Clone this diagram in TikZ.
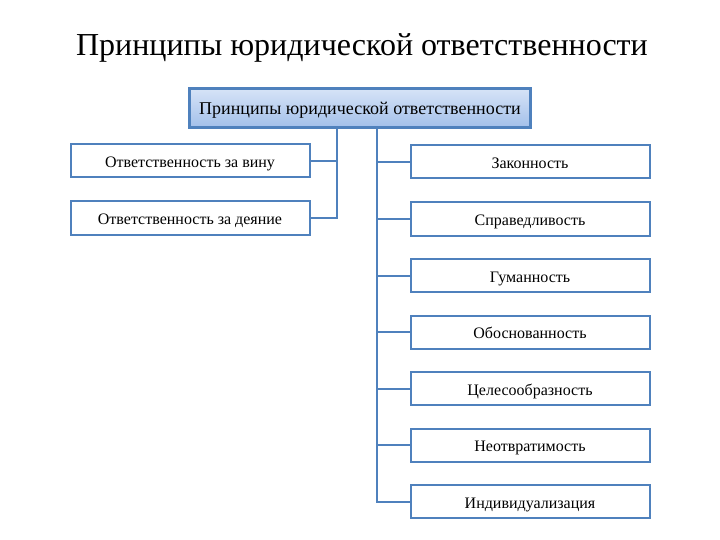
\documentclass[tikz,border=0pt]{standalone}
\usepackage{fontspec}
\setmainfont{Liberation Serif}
\usetikzlibrary{shadows,positioning}
\definecolor{prblue}{RGB}{79,129,189}
\definecolor{prlight}{RGB}{214,227,247}
\definecolor{prmid}{RGB}{163,192,234}
\tikzstyle{topbox} = [draw=prblue, line width=2.2pt, top color=prlight, bottom color=prmid, minimum width=341pt, minimum height=39pt, text height=15pt, text depth=2.5pt, font=\fontsize{18}{20}\selectfont, drop shadow={shadow xshift=-0.5pt, shadow yshift=-2pt, opacity=0.25}]
\tikzstyle{leaf} = [draw=prblue, line width=2pt, fill=white, minimum width=239pt, minimum height=33pt, text height=14pt, text depth=1pt, font=\fontsize{16}{18}\selectfont]
\tikzstyle{link} = [line width=2pt, color=prblue]

\begin{document}
\begin{tikzpicture}[x=1pt, y=-1pt]
\useasboundingbox (0,0) rectangle (720,540);

% Title
\node[font=\fontsize{32}{36}\selectfont] (title) at (362,48) {Принципы юридической ответственности};

% Root
\node[topbox] (root) at (360,108) {Принципы юридической ответственности};

% Left branch
\node[leaf] (guilt) at (190,161) {Ответственность за вину};
\node[leaf] (deed) at (190,218) {Ответственность за деяние};

% Right branch
\node[leaf] (legal) at (530,162) {Законность};
\node[leaf] (just) at (530,219) {Справедливость};
\node[leaf] (human) at (530,275.5) {Гуманность};
\node[leaf] (ground) at (530,332) {Обоснованность};
\node[leaf] (expedient) at (530,388.5) {Целесообразность};
\node[leaf] (inevitable) at (530,445) {Неотвратимость};
\node[leaf] (individual) at (530,501.5) {Индивидуализация};

% Connectors
\coordinate (lsplit) at (337,0);
\coordinate (rsplit) at (376.5,0);
\draw[link] (root.south -| lsplit) |- (deed.east);
\draw[link] (guilt.east) -- (guilt.east -| lsplit);
\draw[link] (root.south -| rsplit) |- (individual.west);
\foreach \n in {legal,just,human,ground,expedient,inevitable}
  \draw[link] (\n.west -| rsplit) -- (\n.west);
\end{tikzpicture}
\end{document}
